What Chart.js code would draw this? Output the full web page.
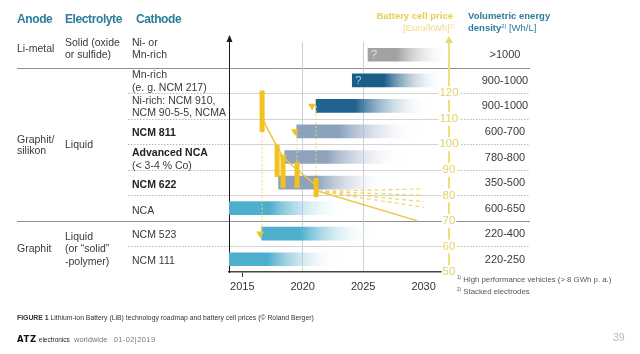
<!DOCTYPE html>
<html>
<head>
<meta charset="utf-8">
<script src="https://cdn.jsdelivr.net/npm/chart.js@4.4.0/dist/chart.umd.min.js"></script>
<style>
    html, body { margin: 0; padding: 0; background: #fff; }
    #wrap { position: relative; width: 640px; height: 354px; overflow: hidden; font-family: 'Liberation Sans', Arial, sans-serif; color: #3a3a3a; }
    #chart { position: absolute; left: 0; top: 0; }
    .t { position: absolute; white-space: nowrap; font-size: 10.5px; line-height: 12px; }
    .h { color: #2b7d99; font-weight: bold; font-size: 12px; letter-spacing: -0.4px; }
    .b { font-weight: bold; color: #222; }
    .fn { font-size: 7.8px; color: #555; }
    sup { font-size: 60%; vertical-align: 3px; line-height: 0; }
</style>
</head>
<body>
<div id="wrap"><canvas id="chart" width="640" height="354"></canvas></div>
<script>
// roadmap rows (top to bottom)
const rows = ['Li-metal', 'Mn-rich', 'Ni-rich', 'NCM 811', 'Advanced NCA', 'NCM 622', 'NCA', 'NCM 523', 'NCM 111'];
const barStart = [2025.4, 2024.1, 2021.1, 2019.5, 2018.5, 2018.0, 2013.9, 2016.6, 2013.9];
const barEnd = [2032.1, 2031.6, 2030.4, 2029.6, 2028.4, 2027.1, 2023.4, 2025.6, 2023.0];
const unknownRows = ['Li-metal', 'Mn-rich'];
const density = ['>1000', '900-1000', '900-1000', '600-700', '780-800', '350-500', '600-650', '220-400', '220-250'];

// battery cell price [Euro/kWh]
const priceYears = [2016.64, 2017.88, 2018.37, 2019.53, 2021.1];
const priceHigh = [121, 99.7, 95.4, 93, 86.8];
const priceLow = [104.8, 87.2, 82.9, 82.9, 79.3];
const trendPrice = [110, 99, 95, 90, 84];
const launchRows = ['NCM 523', 'Advanced NCA', 'NCM 811', 'Ni-rich'];
const launchYears = [2016.48, 2018.37, 2019.36, 2020.77];
const guideYears = [2016.64, 2019.53, 2021.1];
const guideFrom = [65, 105, 115];
const guideTo = [104.8, 82.9, 79.3];
const forecastYears = [2021.3, 2030];
const forecastStart = 81.6;
const forecastEnd = [82.5, 80, 77.5, 75.3, 70];

const yearTicks = [2015, 2020, 2025, 2030];
const priceTicks = [50, 60, 70, 80, 90, 100, 110, 120];
const separators = [130, 120, 110, 100, 90, 80, 70, 60];
const majorSeparators = [130, 70];

const barColors = ['#a2a2a2', '#1c5d87', '#21638f', '#8ba2bd', '#8ea3bb', '#8ea3bb', '#4eaecd', '#4eaecd', '#4eaecd'];
const FONT = "'Liberation Sans', Arial, sans-serif";
Chart.defaults.font.family = FONT;

function barGradient(c) {
    if (c.type !== 'data' || !c.chart.chartArea) return barColors[0];
    const i = c.dataIndex;
    const sx = c.chart.scales.x;
    const x0 = sx.getPixelForValue(barStart[i]);
    const x1 = sx.getPixelForValue(barEnd[i]);
    const g = c.chart.ctx.createLinearGradient(x0, 0, x1, 0);
    g.addColorStop(0, barColors[i]);
    g.addColorStop(0.35, barColors[i]);
    g.addColorStop(1, 'rgba(255,255,255,0)');
    return g;
}

const datasets = [];
priceYears.forEach((yr, i) => datasets.push({
    type: 'line', xAxisID: 'x', yAxisID: 'price', order: 1,
    data: [{ x: yr, y: priceLow[i] }, { x: yr, y: priceHigh[i] }],
    borderColor: '#f3c21c', borderWidth: 5, borderCapStyle: 'butt', pointRadius: 0
}));
datasets.push({
    type: 'line', xAxisID: 'x', yAxisID: 'price', order: 2,
    data: priceYears.map((yr, i) => ({ x: yr, y: trendPrice[i] })),
    borderColor: '#eec43c', borderWidth: 1.5, pointRadius: 0
});
guideYears.forEach((yr, i) => datasets.push({
    type: 'line', xAxisID: 'x', yAxisID: 'price', order: 3,
    data: [{ x: yr, y: guideFrom[i] }, { x: yr, y: guideTo[i] }],
    borderColor: '#f2d56e', borderWidth: 1, borderDash: [2, 2], pointRadius: 0
}));
forecastEnd.forEach((p, i) => {
    const solid = i === forecastEnd.length - 1;
    datasets.push({
        type: 'line', xAxisID: 'x', yAxisID: 'price', order: 3,
        data: [{ x: forecastYears[0], y: forecastStart }, { x: solid ? forecastYears[1] - 0.5 : forecastYears[1], y: p }],
        borderColor: solid ? '#eec744' : '#f0d66a', borderWidth: solid ? 1.5 : 1.2,
        borderDash: solid ? [] : [4, 3], pointRadius: 0
    });
});
datasets.push({
    type: 'line', xAxisID: 'x', yAxisID: 'y', order: 0, showLine: false,
    data: launchRows.map((r, i) => ({ x: launchYears[i], y: r })),
    pointStyle: 'triangle', rotation: 180, pointRadius: 4.5,
    pointBackgroundColor: '#efc224', pointBorderWidth: 0
});
datasets.push({
    type: 'bar', xAxisID: 'x', yAxisID: 'y', order: 10, grouped: false,
    data: rows.map((r, i) => [barStart[i], barEnd[i]]),
    backgroundColor: barGradient, borderWidth: 0, barThickness: 13
});

// row rules and axis arrows
const decor = {
    id: 'decor',
    beforeDraw(chart) {
        const { ctx, chartArea: a, scales: { price } } = chart;
        ctx.save();
        ctx.lineWidth = 1;
        separators.forEach(v => {
            const y = Math.round(price.getPixelForValue(v)) + 0.5;
            if (majorSeparators.includes(v)) {
                ctx.strokeStyle = '#8f8f8f';
                ctx.setLineDash([]);
                ctx.beginPath(); ctx.moveTo(17, y); ctx.lineTo(530, y); ctx.stroke();
                return;
            }
            ctx.strokeStyle = '#b8b8b8';
            ctx.setLineDash([1.5, 1.5]);
            ctx.beginPath(); ctx.moveTo(128, y); ctx.lineTo(a.left, y); ctx.moveTo(a.right, y); ctx.lineTo(530, y); ctx.stroke();
            ctx.strokeStyle = '#d4d4d4';
            ctx.setLineDash([]);
            ctx.beginPath(); ctx.moveTo(a.left, y); ctx.lineTo(a.right, y); ctx.stroke();
        });
        ctx.restore();
    },
    afterDraw(chart) {
        const { ctx, chartArea: a } = chart;
        const arrow = (x, y, w, color) => {
            ctx.fillStyle = color;
            ctx.beginPath(); ctx.moveTo(x, y - 7); ctx.lineTo(x - w, y); ctx.lineTo(x + w, y); ctx.closePath(); ctx.fill();
        };
        ctx.save();
        arrow(a.left + 0.5, a.top, 3, '#1a1a1a');
        arrow(a.right, a.top + 1, 4, '#f0d86a');
        ctx.restore();
    }
};

const chart = new Chart(document.getElementById('chart'), {
    type: 'bar',
    data: { labels: rows, datasets },
    options: {
        indexAxis: 'y',
        responsive: false,
        animation: false,
        devicePixelRatio: 1,
        layout: { padding: { left: 229, right: 181, top: 42, bottom: 56 } },
        plugins: { legend: { display: false }, tooltip: { enabled: false } },
        scales: {
            x: {
                type: 'linear', position: 'bottom', min: 2013.9, max: 2032.1, beginAtZero: false, offset: false,
                afterBuildTicks: s => { s.ticks = yearTicks.map(v => ({ value: v })); },
                afterFit: s => { s.height = 26; },
                ticks: { color: '#333', font: { size: 11 }, padding: 3, maxRotation: 0, autoSkip: false, callback: v => String(v) },
                grid: {
                    offset: false, lineWidth: 1, tickLength: 5,
                    color: c => (c.tick && (c.tick.value === 2020 || c.tick.value === 2025)) ? '#cfcfcf' : 'rgba(0,0,0,0)',
                    tickColor: c => (c.tick && c.tick.value === 2015) ? '#333' : 'rgba(0,0,0,0)'
                },
                border: { color: '#444', width: 1.5 }
            },
            y: {
                type: 'category', position: 'left', offset: true,
                afterFit: s => { s.width = 0; },
                ticks: { display: false },
                grid: { display: false, drawTicks: false },
                border: { display: true, color: '#1a1a1a', width: 1 }
            },
            price: {
                type: 'linear', axis: 'y', position: 'right', min: 50, max: 140, offset: false,
                afterBuildTicks: s => { s.ticks = priceTicks.map(v => ({ value: v })); },
                afterFit: s => { s.width = 10; s.paddingTop = 0; s.paddingBottom = 0; },
                ticks: {
                    color: '#e3d265', font: { size: 11.5 }, mirror: true, crossAlign: 'center', padding: 9.6,
                    showLabelBackdrop: true, backdropColor: '#fff', backdropPadding: { top: 0, bottom: 0, left: 1, right: 1 },
                    callback: v => String(v)
                },
                grid: { display: false, drawTicks: false, offset: false },
                border: { color: '#f0df78', width: 2 }
            }
        }
    },
    plugins: [decor]
});

// text layer
const wrap = document.getElementById('wrap');
function put(html, x, cy, cls, style) {
    const d = document.createElement('div');
    d.className = 't ' + (cls || '');
    d.innerHTML = html;
    d.style.left = x + 'px';
    d.style.top = (cy - 6.5) + 'px';
    if (style) d.style.cssText += style;
    wrap.appendChild(d);
    return d;
}

put('Anode', 17, 19, 'h');
put('Electrolyte', 65, 19, 'h');
put('Cathode', 136, 19, 'h');
put('Battery cell price', 0, 16.5, '', 'left:auto;right:187px;font-weight:bold;font-size:9.5px;color:#e6cf4c;');
put('[Euro/kWh]<sup>1)</sup>', 0, 28.5, '', 'left:auto;right:185px;font-size:9.5px;color:#ecdc8a;');
put('Volumetric energy', 468, 16.5, '', 'font-weight:bold;font-size:9.5px;color:#2b7d99;');
put('<b>density</b><sup>2)</sup> [Wh/L]', 468, 28.5, '', 'font-size:9.5px;color:#2b7d99;');

const table = [
    ['Li-metal', 17, 48], ['Solid (oxide', 65, 42.5], ['or sulfide)', 65, 54.5],
    ['Ni- or', 132, 42.5], ['Mn-rich', 132, 54.5],
    ['Mn-rich', 132, 74.5], ['(e. g. NCM 217)', 132, 87],
    ['Ni-rich: NCM 910,', 132, 100], ['NCM 90-5-5, NCMA', 132, 112],
    ['Graphit/', 17, 139], ['silikon', 17, 150], ['Liquid', 65, 144],
    ['NCM 811', 132, 132.5, 'b'], ['Advanced NCA', 132, 152.5, 'b'], ['(&lt; 3-4 % Co)', 132, 165],
    ['NCM 622', 132, 184, 'b'], ['NCA', 132, 210],
    ['Graphit', 17, 248], ['Liquid', 65, 236], ['(or “solid”', 65, 248], ['-polymer)', 65, 261],
    ['NCM 523', 132, 234.5], ['NCM 111', 132, 260]
];
table.forEach(([txt, x, y, cls]) => put(txt, x, y, cls));

const ys = chart.scales.y;
density.forEach((d, i) => put(d, 505, ys.getPixelForValue(i), '', 'transform:translateX(-50%);font-size:11px;'));

const barMeta = chart.getDatasetMeta(datasets.length - 1);
unknownRows.forEach((r, k) => {
    const el = barMeta.data[rows.indexOf(r)];
    put('?', Math.min(el.x, el.base) + 3, el.y, '', 'font-size:11px;color:' + (k === 0 ? '#e4e4e4' : '#a9d9ee') + ';');
});

put('<sup>1)</sup> High performance vehicles (&gt; 8 GWh p. a.)', 457, 280, 'fn');
put('<sup>2)</sup> Stacked electrodes', 457, 292, 'fn');
put('<b>FIGURE 1</b> Lithium-ion Battery (LiB) technology roadmap and battery cell prices (© Roland Berger)', 17, 318.5, '', 'font-size:6.85px;color:#333;');
put('<b style="font-family:\'DejaVu Sans\';font-size:8.5px;letter-spacing:0.6px;color:#111">ATZ</b> <span style="font-size:6.5px;color:#222">electronics</span>&nbsp; <span style="color:#777">worldwide</span>&nbsp;&nbsp; <span style="color:#777;letter-spacing:0.4px">01-02|2019</span>', 17, 339.5, '', 'font-size:7.5px;');
put('39', 613, 337.5, '', 'font-size:10.5px;color:#bbb;');
</script>
</body>
</html>
